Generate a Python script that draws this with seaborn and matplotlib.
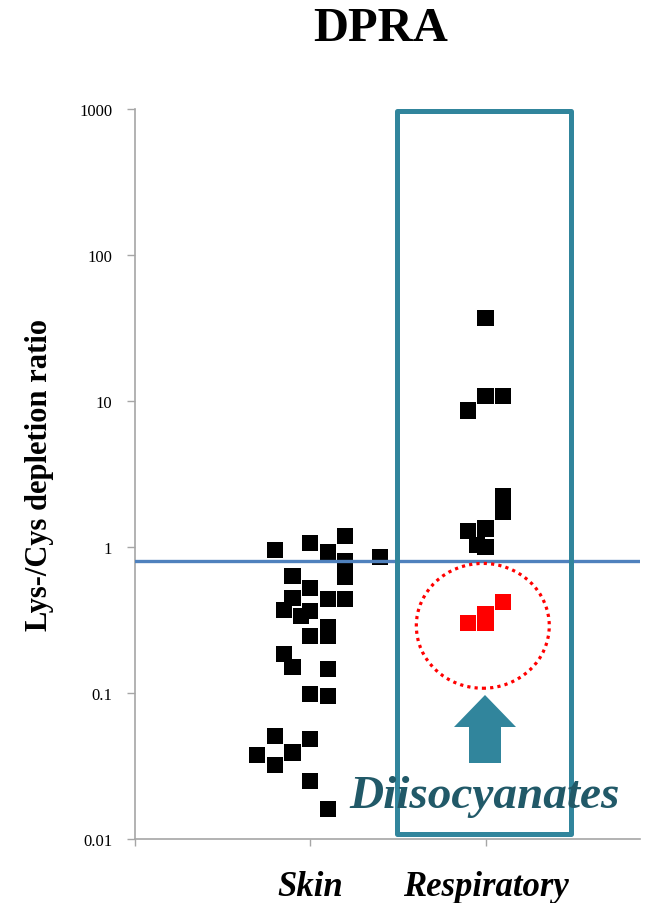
import numpy as np
import pandas as pd
import matplotlib
matplotlib.use("Agg")
import matplotlib.pyplot as plt
from matplotlib.patches import Rectangle, Ellipse, Polygon
import seaborn as sns

# Lys-/Cys depletion ratios per substance
skin_ratio = [0.954, 1.06, 0.92, 1.195, 0.805, 0.858, 0.636, 0.62, 0.523, 0.447,
              0.44, 0.44, 0.37, 0.338, 0.362, 0.284, 0.246, 0.246, 0.185, 0.150,
              0.146, 0.099, 0.0955, 0.0508, 0.0482, 0.0374, 0.0391, 0.032, 0.0249, 0.016]
skin_column = [-2, 0, 1, 2, 2, 4, -1, 2, 0, -1,
               1, 2, -1.5, -0.5, 0, 1, 0, 1, -1.5, -1,
               1, 0, 1, -2, 0, -3, -1, -2, 0, 1]

resp_ratio = [37.0, 10.8, 10.8, 8.6, 2.25, 1.73, 1.34, 1.29, 1.03, 0.995]
resp_column = [0, 0, 1, -1, 1, 1, 0, -1, -0.5, 0]

diiso_ratio = [0.42, 0.347, 0.301, 0.301]
diiso_column = [1, 0, 0, -1]

categories = ["Skin", "Respiratory"]
threshold = 0.8
y_ticks = [0.01, 0.1, 1, 10, 100, 1000]
y_tick_labels = ["0.01", "0.1", "1", "10", "100", "1000"]

frames = [
    pd.DataFrame({"group": "Skin", "col": skin_column, "ratio": skin_ratio, "kind": "other"}),
    pd.DataFrame({"group": "Respiratory", "col": resp_column, "ratio": resp_ratio, "kind": "other"}),
    pd.DataFrame({"group": "Respiratory", "col": diiso_column, "ratio": diiso_ratio, "kind": "diiso"}),
]
df = pd.concat(frames, ignore_index=True)
cat_pos = {c: i + 1 for i, c in enumerate(categories)}
df["x"] = df["group"].map(cat_pos) + df["col"] * 0.1

sns.set_style("white")
plt.rcParams["font.family"] = ["Liberation Serif", "DejaVu Serif"]
plt.rcParams["text.color"] = "black"
plt.rcParams["axes.labelcolor"] = "black"
plt.rcParams["xtick.labelcolor"] = "black"
plt.rcParams["ytick.labelcolor"] = "black"

W, H = 653, 904
fig = plt.figure(figsize=(W / 100, H / 100), dpi=100)
ax = fig.add_axes([134.5 / W, 1 - 840 / H, 505.5 / W, 730 / H])

sns.scatterplot(data=df, x="x", y="ratio", hue="kind", palette={"other": "black", "diiso": "#FF0000"},
                marker="s", s=135, linewidth=0, legend=False, ax=ax, zorder=3)

ax.set_yscale("log")
ax.set_ylim(0.01, 1000)
ax.set_xlim(0, 2.88)
ax.set_yticks(y_ticks)
ax.set_yticklabels(y_tick_labels)
ax.minorticks_off()
ax.set_xticks([0, 1, 2])
ax.set_xticklabels([""] + categories, fontsize=25, fontweight="bold", fontstyle="italic")
ax.tick_params(axis="y", direction="out", length=6, width=1, color="#A6A6A6", labelsize=12, pad=10, left=True)
ax.tick_params(axis="x", direction="out", length=5, width=1, color="#A6A6A6", pad=17, bottom=True)
for side in ("top", "right"):
    ax.spines[side].set_visible(False)
for side in ("left", "bottom"):
    ax.spines[side].set_color("#A6A6A6")
    ax.spines[side].set_linewidth(1.2)
ax.set_xlabel("")
ax.set_ylabel("Lys-/Cys depletion ratio", fontsize=22, fontweight="bold")
ax.yaxis.set_label_coords(-0.16, 0.5)

# threshold line
ax.axhline(threshold, color="#4F81BD", lw=2.4, zorder=4)

# frame around the respiratory group
box = Rectangle((1.496, 0.0108), 2.487 - 1.496, 966 - 0.0108, fill=False,
                edgecolor="#31859C", lw=3.6, joinstyle="round", zorder=5, clip_on=False)
ax.add_patch(box)

# dotted ring around the diisocyanates
ring = Ellipse((0.689, 0.292), 0.263, 0.171, transform=ax.transAxes, fill=False,
               edgecolor="#FF0000", lw=2.3, linestyle=(0, (1, 1.3)), zorder=5)
ax.add_patch(ring)

# upward arrow
def fpx(x, y):
    return (x / W, 1 - y / H)

arrow_pts = [fpx(485, 696), fpx(516, 728), fpx(501, 728), fpx(501, 764),
             fpx(469, 764), fpx(469, 728), fpx(454, 728)]
fig.add_artist(Polygon(arrow_pts, closed=True, transform=fig.transFigure,
                       facecolor="#31859C", edgecolor="none", zorder=6))

fig.text(485 / W, 1 - 797 / H, "Diisocyanates", ha="center", va="center", fontsize=34,
         fontweight="bold", fontstyle="italic", color="#215968", zorder=7)

fig.text(381 / W, 1 - 29 / H, "DPRA", ha="center", va="center", fontsize=35, fontweight="bold")

fig.savefig("out.png", dpi=100)
